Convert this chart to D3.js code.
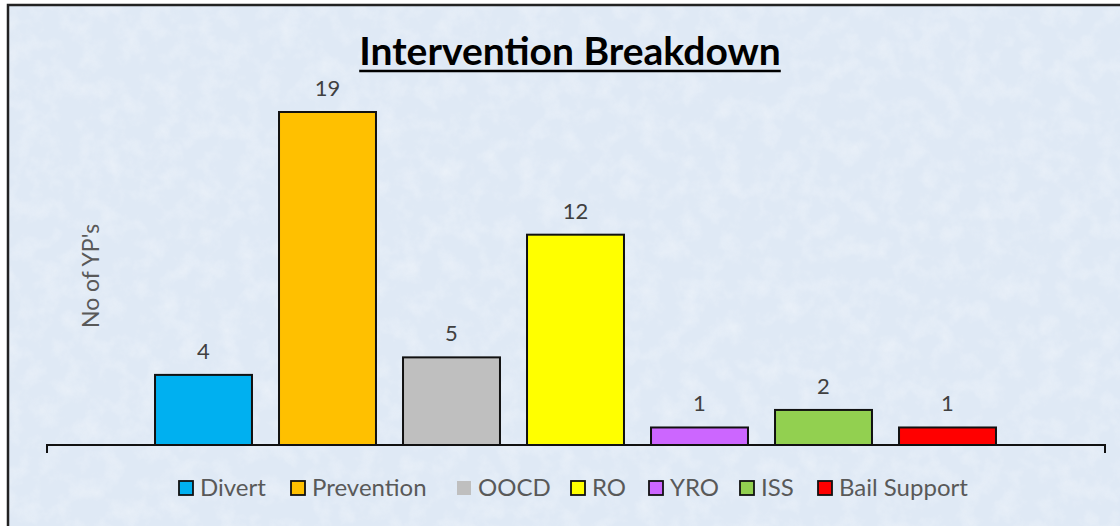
<!DOCTYPE html>
<html>
<head>
<meta charset="utf-8">
<script src="https://cdn.jsdelivr.net/npm/d3@7"></script>
<style>
  body { margin: 0; background: #fff; }
  svg { display: block; }
</style>
</head>
<body>
<div id="chart"></div>
<script>
// chart data
const categories = ["Divert", "Prevention", "OOCD", "RO", "YRO", "ISS", "Bail Support"];
const values = [4, 19, 5, 12, 1, 2, 1];
const colors = ["#00b0f0", "#ffc000", "#bfbfbf", "#ffff00", "#cc66ff", "#92d050", "#ff0000"];
const legendStroke = [true, true, false, true, true, true, true];

const width = 1120;
const height = 526;

const svg = d3.select('#chart')
  .append('svg')
  .attr('width', width)
  .attr('height', height);

// paper-like texture for the chart area
const defs = svg.append('defs');
const filt = defs.append('filter').attr('id', 'paper')
  .attr('x', 0).attr('y', 0).attr('width', '100%').attr('height', '100%');
filt.append('feTurbulence')
  .attr('type', 'fractalNoise')
  .attr('baseFrequency', 0.05)
  .attr('numOctaves', 4)
  .attr('seed', 3)
  .attr('result', 'noise');
filt.append('feColorMatrix')
  .attr('in', 'noise')
  .attr('type', 'matrix')
  .attr('values', '0 0 0 0 1  0 0 0 0 1  0 0 0 0 1  0 0 0 1.2 -0.5');

svg.append('rect')
  .attr('x', 7).attr('y', 4)
  .attr('width', width).attr('height', height)
  .attr('fill', '#dfe9f5');
svg.append('rect')
  .attr('x', 7).attr('y', 4)
  .attr('width', width).attr('height', height)
  .attr('filter', 'url(#paper)')
  .attr('opacity', 0.5);

// frame
svg.append('path')
  .attr('d', `M8,${height} V5 H${width}`)
  .attr('fill', 'none')
  .attr('stroke', '#222')
  .attr('stroke-width', 2.5);

// scales
const x = d3.scaleBand()
  .domain(categories)
  .range([141.5, 1009.5])
  .paddingInner(0.218)
  .paddingOuter(0.109);

const baseY = 445;
const y = d3.scaleLinear()
  .domain([0, 19])
  .range([baseY, 112]);

// title
const title = svg.append('text')
  .attr('x', 570)
  .attr('y', 65)
  .attr('text-anchor', 'middle')
  .attr('font-family', 'Lato, "Open Sans", sans-serif')
  .attr('font-weight', 'bold')
  .attr('font-size', 39)
  .attr('fill', '#000')
  .text('Intervention Breakdown');
const tb = title.node().getBBox();
svg.append('line')
  .attr('x1', tb.x).attr('x2', tb.x + tb.width)
  .attr('y1', 71).attr('y2', 71)
  .attr('stroke', '#000')
  .attr('stroke-width', 2.5);

// y axis title
svg.append('text')
  .attr('transform', `translate(99, 276) rotate(-90)`)
  .attr('text-anchor', 'middle')
  .attr('font-family', 'Lato, "Open Sans", sans-serif')
  .attr('font-size', 23)
  .attr('fill', '#595959')
  .text("No of YP's");

// bars
svg.selectAll('rect.bar')
  .data(categories)
  .join('rect')
  .attr('class', 'bar')
  .attr('x', d => x(d))
  .attr('y', (d, i) => y(values[i]))
  .attr('width', x.bandwidth())
  .attr('height', (d, i) => baseY - y(values[i]))
  .attr('fill', (d, i) => colors[i])
  .attr('stroke', '#111')
  .attr('stroke-width', 2);

// value labels
svg.selectAll('text.val')
  .data(categories)
  .join('text')
  .attr('class', 'val')
  .attr('x', d => x(d) + x.bandwidth() / 2)
  .attr('y', (d, i) => y(values[i]) - 16)
  .attr('text-anchor', 'middle')
  .attr('font-family', 'Lato, "Open Sans", sans-serif')
  .attr('font-size', 22)
  .attr('fill', '#404040')
  .text((d, i) => values[i]);

// category axis line with end ticks
svg.append('path')
  .attr('d', `M47,${baseY + 8} V${baseY} H1105 V${baseY + 8}`)
  .attr('fill', 'none')
  .attr('stroke', '#111')
  .attr('stroke-width', 2);

// legend
const legendX = [179, 291, 457, 571, 649, 740, 818];
const legend = svg.append('g');
const items = legend.selectAll('g')
  .data(categories)
  .join('g')
  .attr('transform', (d, i) => `translate(${legendX[i]}, 481)`);
items.append('rect')
  .attr('width', 14).attr('height', 14)
  .attr('fill', (d, i) => colors[i])
  .attr('stroke', (d, i) => legendStroke[i] ? '#111' : 'none')
  .attr('stroke-width', 1.8);
items.append('text')
  .attr('x', 21)
  .attr('y', 15)
  .attr('font-family', 'Lato, "Open Sans", sans-serif')
  .attr('font-size', 24)
  .attr('fill', '#595959')
  .text(d => d);
</script>
</body>
</html>
